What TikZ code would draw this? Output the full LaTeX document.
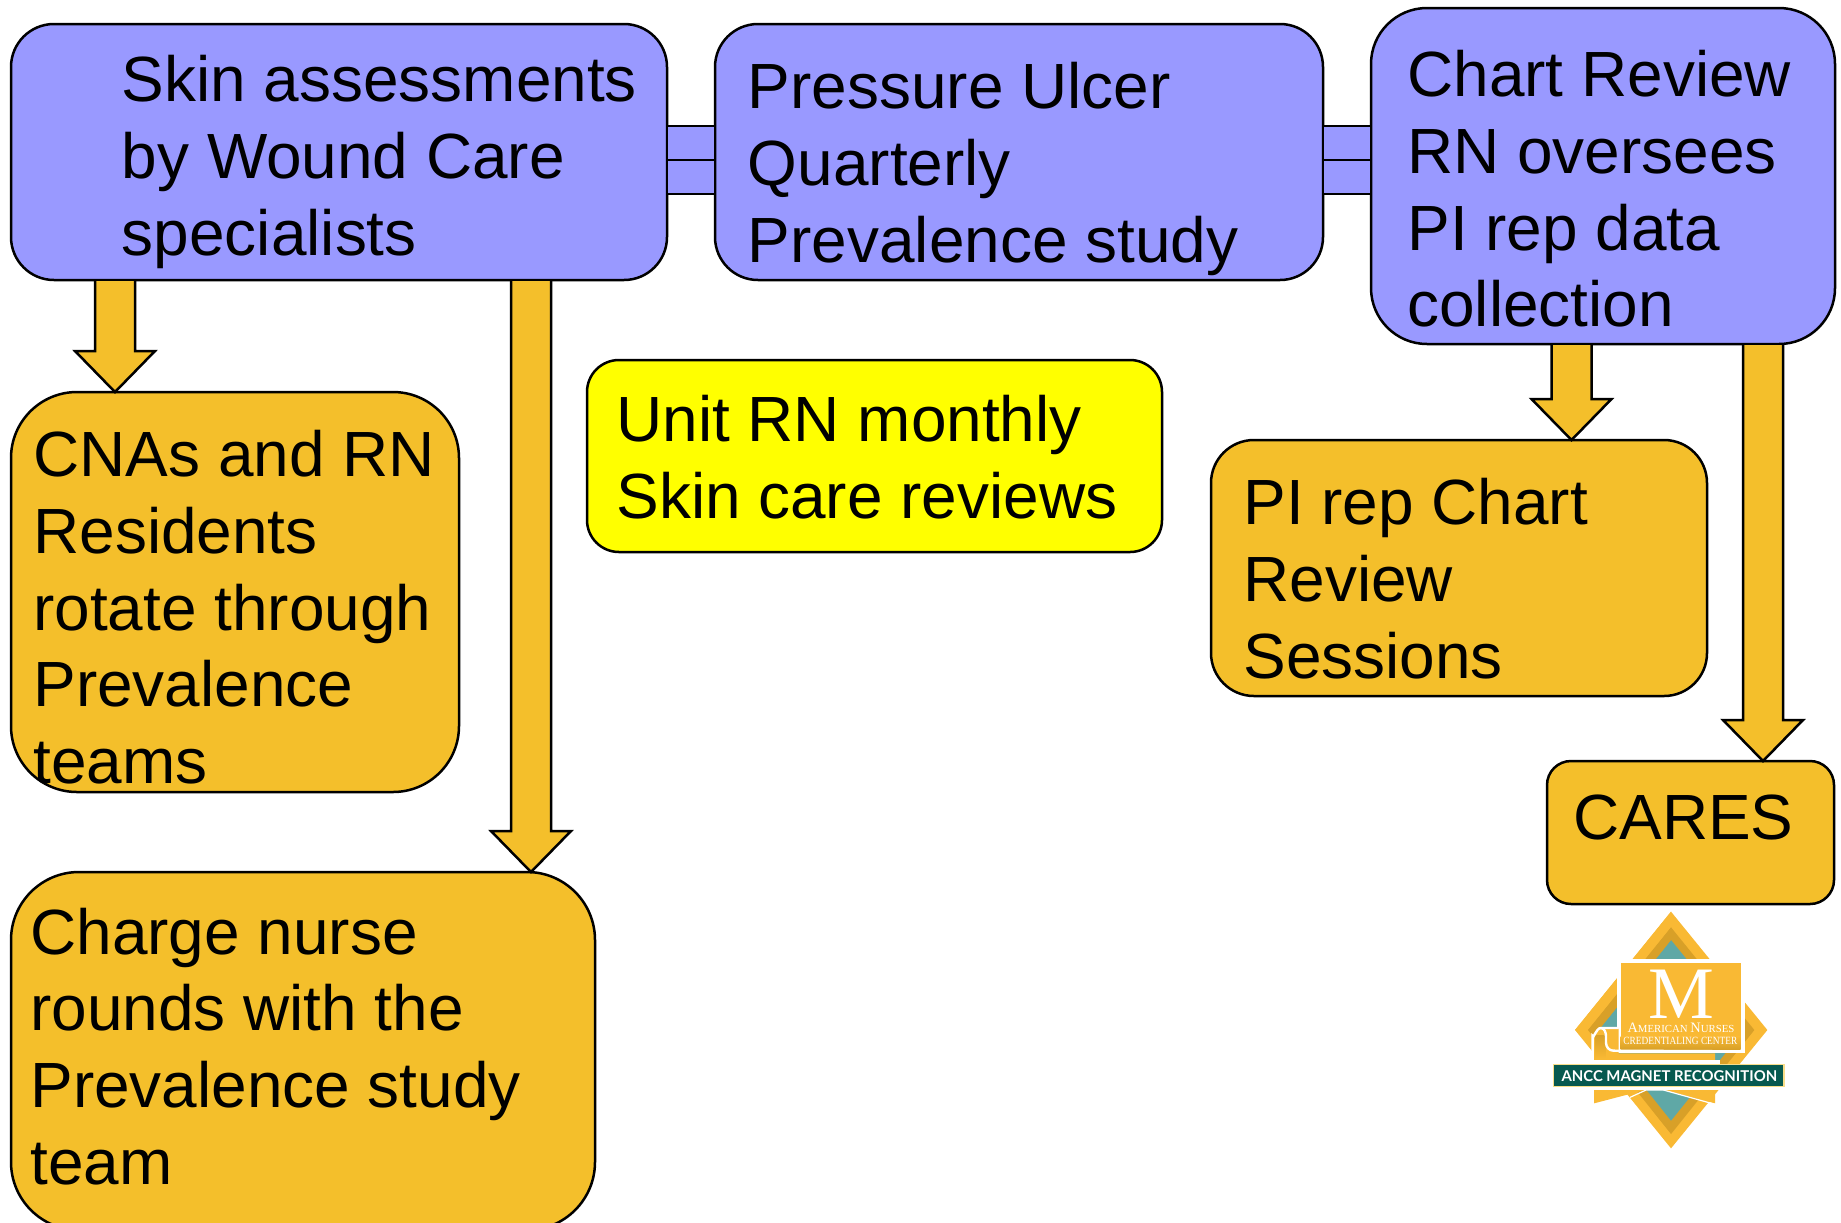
\documentclass[tikz,border=0pt]{standalone}
\usepackage{fontspec}
\usepackage{graphicx}
\setmainfont{Liberation Sans}
\newfontfamily\logoserif{Liberation Serif}
\newfontfamily\logosans{Lato}
\usetikzlibrary{calc}
\definecolor{boxblue}{HTML}{9999FF}
\definecolor{boxorange}{HTML}{F4BF2B}
\definecolor{boxyellow}{HTML}{FFFF00}
\definecolor{logogold}{HTML}{F9B934}
\definecolor{logodark}{HTML}{D8A028}
\definecolor{logoteal}{HTML}{5FA8A6}
\definecolor{logogreen}{HTML}{07594F}
\definecolor{logoedge}{HTML}{F8DE8A}
\tikzset{
  box/.style={draw=black,line width=1.25pt,inner sep=0pt,outer sep=0pt,anchor=north west,rectangle},
  bluebox/.style={box,fill=boxblue,rounded corners=21.5pt},
  orangebox/.style={box,fill=boxorange},
  label/.style={anchor=north west,inner sep=0pt,align=left,font=\fontsize{31.96}{38.35}\selectfont},
  strip/.style={draw=black,line width=1.25pt,fill=boxblue},
  blockarrow/.style={draw=black,line width=1.25pt,fill=boxorange,line join=miter},
  logotext/.style={text=white,inner sep=0pt}
}
\newcommand{\blockarrow}[5]{%
  \draw[blockarrow] ($(#1)+(-#3,1)$) -- ($(#2)+(-#3,-#5)$) -- ($(#2)+(-#4,-#5)$) -- (#2) -- ($(#2)+(#4,-#5)$) -- ($(#2)+(#3,-#5)$) -- ($(#1)+(#3,1)$);}
\begin{document}
\begin{tikzpicture}[x=0.5pt,y=-0.5pt]
\useasboundingbox (0,0) rectangle (1841,1222);
\clip (0,0) rectangle (1841,1222);
% boxes
\node[bluebox,minimum width=328pt,minimum height=128pt] (skin) at (11,24) {};
\node[bluebox,minimum width=304pt,minimum height=128pt] (prev) at (715,24) {};
\node[bluebox,rounded corners=28pt,minimum width=232pt,minimum height=168pt] (chart) at (1371,8) {};
\node[orangebox,rounded corners=33pt,minimum width=224pt,minimum height=200pt] (cna) at (11,392) {};
\node[orangebox,rounded corners=34pt,minimum width=292pt,minimum height=179pt] (charge) at (11,872) {};
\node[box,fill=boxyellow,rounded corners=16pt,minimum width=287.5pt,minimum height=96pt] (unit) at (587,360) {};
\node[orangebox,rounded corners=21.5pt,minimum width=248pt,minimum height=128pt] (pi) at (1211,440) {};
\node[orangebox,rounded corners=12pt,minimum width=143.5pt,minimum height=71.5pt] (cares) at (1547,761) {};
% strips
\coordinate (ya) at (0,126);
\coordinate (yb) at (0,160);
\coordinate (yc) at (0,194);
\draw[strip] (skin.east |- ya) rectangle (prev.west |- yb);
\draw[strip] (skin.east |- yb) rectangle (prev.west |- yc);
\draw[strip] (prev.east |- ya) rectangle (chart.west |- yb);
\draw[strip] (prev.east |- yb) rectangle (chart.west |- yc);
% arrows
\coordinate (a1) at (115,0);
\coordinate (a2) at (531,0);
\coordinate (a3) at (1571.5,0);
\coordinate (a4) at (1763,0);
\coordinate (s1) at (a1 |- skin.south);
\coordinate (t1) at (a1 |- cna.north);
\coordinate (s2) at (a2 |- skin.south);
\coordinate (t2) at (a2 |- charge.north);
\coordinate (s3) at (a3 |- chart.south);
\coordinate (t3) at (a3 |- pi.north);
\coordinate (s4) at (a4 |- chart.south);
\coordinate (t4) at (a4 |- cares.north);
\blockarrow{s1}{t1}{20}{40}{41}
\blockarrow{s2}{t2}{20}{40}{41}
\blockarrow{s3}{t3}{20}{40}{41}
\blockarrow{s4}{t4}{20}{40}{41}
% text
\node[label] (skintext) at (121.5,55) {Skin assessments\\by Wound Care\\specialists};
\node[label] (prevtext) at (747.5,62) {Pressure Ulcer\\Quarterly\\Prevalence study};
\node[label] (charttext) at (1407,50) {Chart Review\\RN oversees\\PI rep data\\collection};
\node[label] (unittext) at (616,395) {Unit RN monthly\\Skin care reviews};
\node[label] (pitext) at (1243,478) {PI rep Chart\\Review\\Sessions};
\node[label] (cnatext) at (33,430) {CNAs and RN\\Residents\\rotate through\\Prevalence\\teams};
\node[label] (chargetext) at (30,907.5) {Charge nurse\\rounds with the\\Prevalence study\\team};
\node[label] (carestext) at (1573,794) {CARES};
% logo
\begin{scope}[shift={(1520,890)},x=0.16667pt,y=-0.16667pt]
\fill[logogold] (453,65) -- (742,420) -- (453,775) -- (165,420) -- cycle;
\fill[logodark] (453,112) -- (703,420) -- (453,732) -- (204,420) -- cycle;
\fill[logoteal] (453,150) -- (672,420) -- (453,692) -- (236,420) -- cycle;
\fill[logogold] (453,65) -- (453,112) -- (204,420) -- (165,420) -- cycle;
\fill[logodark] (453,112) -- (453,150) -- (236,420) -- (204,420) -- cycle;
\fill[white] (290,208) rectangle (674,490);
\fill[logogold] (302,220) rectangle (662,478);
\shade[top color=logogold,bottom color=logodark] (302,440) rectangle (662,478);
\fill[logogold] (222,510) -- (222,432) -- (240,416) -- (296,416) -- (296,490) -- (585,490) -- (585,510) -- cycle;
\shade[top color=logodark,bottom color=logogold] (226,436) rectangle (256,505);
\draw[white,line width=1.2pt] (218,512) -- (218,438) to[out=-90,in=180] (242,414) -- (296,414);
\draw[white,line width=1.2pt] (242,414) to[out=0,in=90] (258,440) -- (258,458) to[out=-90,in=180] (280,482) -- (670,484);
\fill[white] (215,510) rectangle (600,523);
\fill[white] (90,590) rectangle (800,600);
\fill[logogreen,draw=logoedge,line width=0.6pt] (100,523) rectangle (792,590);
\fill[logogold] (222,600) -- (375,600) -- (222,640) -- cycle;
\fill[logogold] (432,600) -- (585,600) -- (585,640) -- cycle;
\draw[white,line width=0.6pt] (330,622) -- (378,600) -- (430,600) -- (585,643);
\node[logotext,font=\logoserif\fontsize{37}{37}\selectfont] (logom) at (484,313) {M};
\node[logotext,font=\logoserif\fontsize{5.4}{5.4}\selectfont] (logoa) at (483,414) {{\fontsize{7.2}{7.2}\selectfont A}MERICAN {\fontsize{7.2}{7.2}\selectfont N}URSES};
\node[logotext,font=\logoserif\fontsize{5.5}{5.5}\selectfont] (logob) at (481,453) {\scalebox{0.85}[1]{CREDENTIALING CENTER}};
\node[logotext,font=\logosans\bfseries\fontsize{7.45}{7.45}\selectfont] (logoc) at (448,557) {ANCC MAGNET RECOGNITION};
\end{scope}
\end{tikzpicture}
\end{document}
